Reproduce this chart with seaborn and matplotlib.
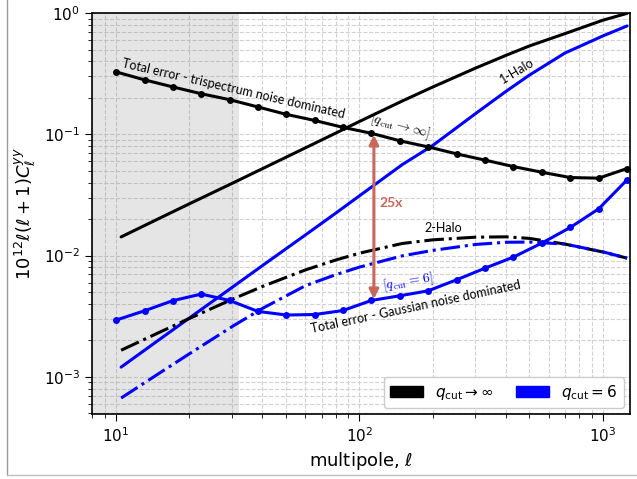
import numpy as np
import pandas as pd
import matplotlib
matplotlib.use("Agg")
import matplotlib.pyplot as plt
import seaborn as sns
from matplotlib.lines import Line2D
from matplotlib.patches import Patch

# ---------------- data ----------------
ell_pts = [10, 13.1, 17.1, 22.4, 29.3, 38.3, 50.1, 65.6, 85.8, 112,
           147, 192, 251, 329, 430, 562, 736, 963, 1259]
err_trisp = [0.327, 0.281, 0.246, 0.216, 0.193, 0.168, 0.146, 0.130, 0.114, 0.102,
             0.0883, 0.0787, 0.069, 0.0612, 0.0542, 0.0487, 0.044, 0.0435, 0.0522]
err_gauss = [0.00294, 0.00351, 0.00425, 0.00482, 0.00427, 0.00347, 0.00324, 0.00327,
             0.00353, 0.00427, 0.00467, 0.00513, 0.00632, 0.00789, 0.00973, 0.01268,
             0.01706, 0.0243, 0.0421]

ell_line = [10.5, 15, 20, 30, 40, 60, 80, 100, 150, 200, 300, 400, 500, 700, 1000, 1260]
halo1_inf = [0.01426, 0.0202, 0.0267, 0.0394, 0.0521, 0.0773, 0.1023, 0.1274, 0.188,
             0.245, 0.351, 0.447, 0.535, 0.676, 0.871, 0.993]
halo1_q6 = [0.001205, 0.002018, 0.003055, 0.00547, 0.00828, 0.01479, 0.02239, 0.03105,
            0.0562, 0.0807, 0.1479, 0.2254, 0.3076, 0.4677, 0.6457, 0.782]
halo2_inf = [0.00166, 0.00232, 0.00303, 0.00436, 0.00557, 0.00762, 0.00920, 0.01047,
             0.01259, 0.01349, 0.01419, 0.01429, 0.01387, 0.01245, 0.01072, 0.00953]
halo2_q6 = [0.000670, 0.001067, 0.001549, 0.002600, 0.003673, 0.005649, 0.006966,
            0.008035, 0.009954, 0.01104, 0.01236, 0.01288, 0.01294, 0.01245, 0.01076,
            0.00953]

legend_labels = [r"$q_{\rm cut} \rightarrow \infty$", r"$q_{\rm cut} = 6$"]

# ---------------- plot ----------------
sns.set_style("ticks")
plt.rcParams["font.family"] = ["DejaVu Sans"]
plt.rcParams["mathtext.fontset"] = "dejavusans"
plt.rcParams["text.color"] = "black"
plt.rcParams["axes.labelcolor"] = "black"
plt.rcParams["xtick.color"] = "black"
plt.rcParams["ytick.color"] = "black"

fig = plt.figure(figsize=(6.37, 4.79), dpi=100)
ax = fig.add_axes([0.1444, 0.1357, 0.8446, 0.8372])

ax.set_xscale("log")
ax.set_yscale("log")

lw = 2.2
sns.lineplot(x=ell_line, y=halo1_inf, ax=ax, color="black", lw=lw, sort=False)
sns.lineplot(x=ell_line, y=halo1_q6, ax=ax, color="blue", lw=lw, sort=False)
sns.lineplot(x=ell_line, y=halo2_inf, ax=ax, color="black", lw=lw, linestyle="-.", sort=False)
sns.lineplot(x=ell_line, y=halo2_q6, ax=ax, color="blue", lw=lw, linestyle="-.", sort=False)
sns.lineplot(x=ell_pts, y=err_trisp, ax=ax, color="black", lw=lw, marker="o",
             markersize=5, markeredgewidth=0, sort=False)
sns.lineplot(x=ell_pts, y=err_gauss, ax=ax, color="blue", lw=lw, marker="o",
             markersize=5, markeredgewidth=0, sort=False)

ax.axvspan(7, 32, color="gray", alpha=0.2, lw=0, zorder=0.8)

ax.set_xlim(7.97, 1295)
ax.set_ylim(4.95e-4, 1.0)

ax.set_axisbelow(True)
ax.grid(True, which="both", ls="--", color="0.82", lw=0.8)
for s in ax.spines.values():
    s.set_color("black")
    s.set_linewidth(1.2)
ax.tick_params(which="both", direction="out", color="black", labelcolor="black", labelsize=11)
ax.tick_params(which="major", length=5)
ax.tick_params(which="minor", length=3)

ax.set_xlabel(r"multipole, $\ell$", fontsize=13, color="black")
ax.set_ylabel(r"$10^{12}\ell(\ell+1)C_\ell^{yy}$", fontsize=13, color="black")

afont = ["Lato", "DejaVu Sans"]
ax.text(30.5, 0.2366, "Total error - trispectrum noise dominated", fontsize=9,
        family=afont, color="black", rotation=-13, ha="center", va="center",
        rotation_mode="anchor")
ax.text(171, 0.00379, "Total error - Gaussian noise dominated", fontsize=9,
        family=afont, color="black", rotation=12, ha="center", va="center",
        rotation_mode="anchor")
ax.text(444.6, 0.333, "1-Halo", fontsize=9, family=afont, color="black", rotation=31,
        ha="center", va="center", rotation_mode="anchor")
ax.text(220.8, 0.01694, "2-Halo", fontsize=9, family=afont, color="black",
        ha="center", va="center")
ax.text(146.9, 0.117, r"$[q_{\rm cut} \rightarrow \infty]$", fontsize=10, color="black",
        math_fontfamily="cm", rotation=-15, ha="center", va="center", rotation_mode="anchor")
ax.text(158.5, 0.00597, r"$[q_{\rm cut} = 6]$", fontsize=10, color="blue",
        math_fontfamily="cm", rotation=9, ha="center", va="center", rotation_mode="anchor")

arrow_color = "#c8675c"
ax.annotate("", xy=(114.8, 0.0989), xytext=(114.8, 0.00438),
            arrowprops=dict(arrowstyle="<|-|>", color=arrow_color, lw=2.2,
                            mutation_scale=14, shrinkA=0, shrinkB=0))
ax.text(134.9, 0.0272, "25x", color=arrow_color, fontsize=10, fontweight="bold",
        family=afont, ha="center", va="center")

handles = [Patch(facecolor="black", edgecolor="black"),
           Patch(facecolor="blue", edgecolor="blue")]
ax.legend(handles, legend_labels, loc="lower right", ncol=2, fontsize=11,
          handlelength=2.2, handleheight=0.8, columnspacing=1.4, framealpha=1,
          borderaxespad=0.4, labelcolor="black")

# screenshot-like frame
fig.add_artist(Line2D([7 / 637, 7 / 637], [4 / 479, 1.0], transform=fig.transFigure,
                      color="0.6", lw=1))
fig.add_artist(Line2D([7 / 637, 1.0], [4 / 479, 4 / 479], transform=fig.transFigure,
                      color="0.75", lw=1))

fig.savefig("out.png", dpi=100)
